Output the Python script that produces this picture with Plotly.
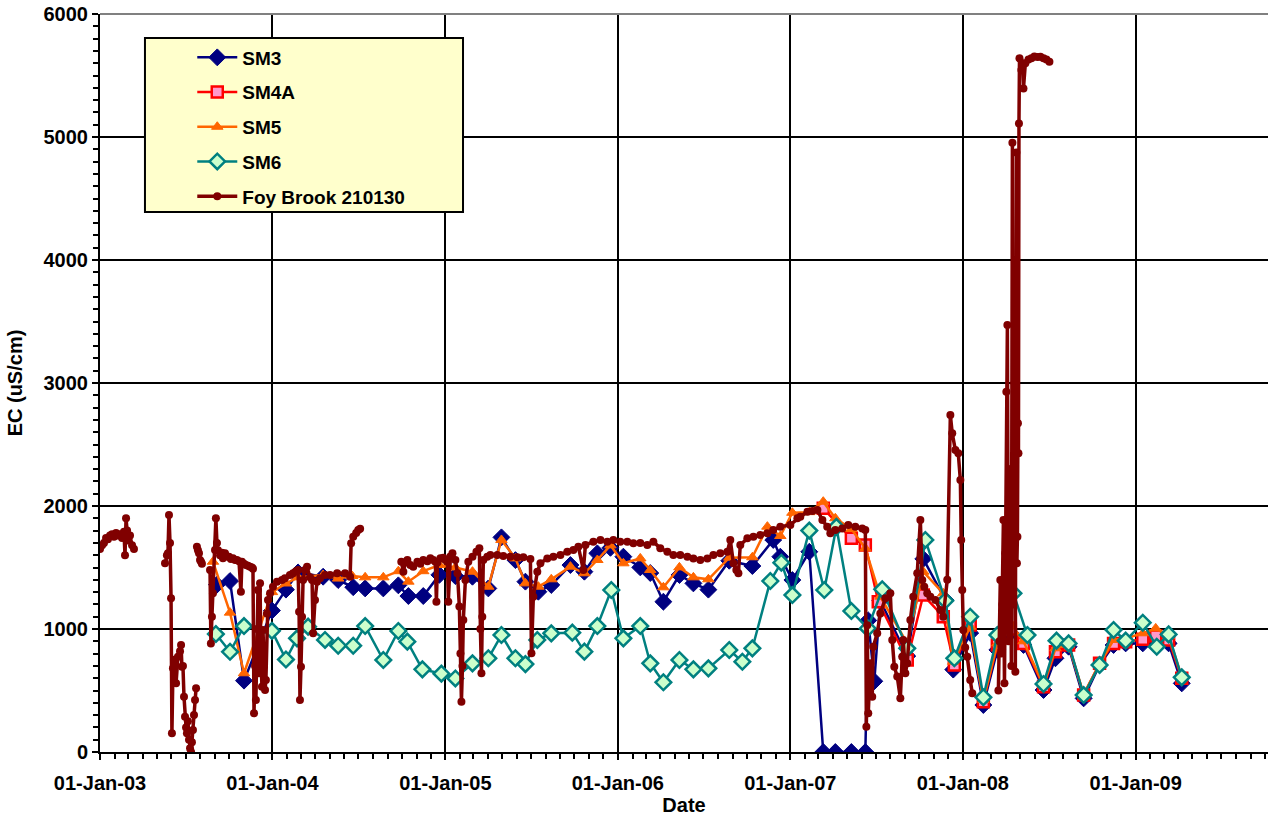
import datetime as _dt
import plotly.graph_objects as go

# ---------------- data (dates as decimal years, EC in uS/cm) ----------------
sm3_year = [2003.678, 2003.754, 2003.835, 2003.997, 2004.078, 2004.148, 2004.293, 2004.380, 2004.467,
            2004.536, 2004.641, 2004.728, 2004.786, 2004.872, 2004.965, 2005.058, 2005.157, 2005.249,
            2005.325, 2005.406, 2005.464, 2005.539, 2005.614, 2005.725, 2005.806, 2005.881, 2005.957,
            2006.032, 2006.130, 2006.188, 2006.264, 2006.357, 2006.438, 2006.525, 2006.646, 2006.780,
            2006.901, 2006.942, 2007.012, 2007.110, 2007.191, 2007.261, 2007.354, 2007.435, 2007.452,
            2007.487, 2007.522, 2007.678, 2007.771, 2007.899, 2007.945, 2008.043, 2008.119, 2008.200,
            2008.275, 2008.351, 2008.467, 2008.536, 2008.612, 2008.699, 2008.791, 2008.872, 2008.942,
            2009.041, 2009.116, 2009.191, 2009.267]
sm3_ec = [1360, 1390, 580, 1150, 1320, 1460, 1425, 1398, 1340,
          1330, 1330, 1355, 1268, 1268, 1440, 1430, 1425, 1330,
          1745, 1560, 1385, 1303, 1358, 1520, 1466, 1615, 1660,
          1588, 1501, 1455, 1222, 1439, 1371, 1320, 1555, 1512,
          1724, 1588, 1398, 1628, 0, 0, 0, 0, 1070,
          575, 1230, 780, 1570, 1236, 670, 967, 382, 830,
          970, 870, 504, 762, 856, 436, 707, 870, 883,
          883, 911, 883, 558]

sm4a_year = [2007.191, 2007.354, 2007.435, 2007.510, 2007.678, 2007.771, 2007.887, 2007.951, 2008.043,
             2008.119, 2008.200, 2008.275, 2008.351, 2008.467, 2008.536, 2008.612, 2008.699, 2008.791,
             2008.872, 2008.942, 2009.041, 2009.116, 2009.191, 2009.267]
sm4a_ec = [1981, 1737, 1683, 1222, 748, 1276, 1100, 707, 1033,
           409, 870, 1000, 883, 531, 816, 870, 463, 721,
           883, 897, 916, 943, 911, 599]

sm5_year = [2003.655, 2003.754, 2003.835, 2003.997, 2004.078, 2004.148, 2004.293, 2004.380, 2004.461,
            2004.536, 2004.641, 2004.728, 2004.786, 2004.872, 2004.965, 2005.058, 2005.157, 2005.249,
            2005.325, 2005.406, 2005.464, 2005.539, 2005.614, 2005.725, 2005.806, 2005.881, 2005.957,
            2006.032, 2006.130, 2006.188, 2006.264, 2006.357, 2006.438, 2006.525, 2006.646, 2006.780,
            2006.867, 2006.942, 2007.012, 2007.110, 2007.191, 2007.261, 2007.354, 2007.435, 2007.522,
            2007.678, 2007.771, 2007.887, 2007.945, 2008.043, 2008.119, 2008.200, 2008.275, 2008.351,
            2008.467, 2008.536, 2008.612, 2008.699, 2008.791, 2008.872, 2008.942, 2009.041, 2009.116,
            2009.191, 2009.267]
sm5_ec = [1547, 1133, 640, 1300, 1370, 1420, 1439, 1410, 1431,
          1420, 1420, 1470, 1385, 1470, 1520, 1500, 1466, 1344,
          1724, 1574, 1371, 1344, 1404, 1507, 1453, 1561, 1680,
          1534, 1574, 1480, 1339, 1501, 1420, 1404, 1580, 1583,
          1832, 1756, 1945, 1950, 2035, 1900, 1813, 1656, 1263,
          883, 1466, 1290, 734, 1019, 423, 883, 1050, 900,
          540, 843, 870, 470, 715, 911, 924, 965, 1005,
          943, 610]

sm6_year = [2003.672, 2003.754, 2003.835, 2003.997, 2004.078, 2004.142, 2004.206, 2004.304, 2004.380,
            2004.467, 2004.536, 2004.641, 2004.728, 2004.780, 2004.867, 2004.977, 2005.058, 2005.157,
            2005.249, 2005.325, 2005.406, 2005.464, 2005.533, 2005.614, 2005.736, 2005.806, 2005.881,
            2005.962, 2006.032, 2006.130, 2006.188, 2006.264, 2006.357, 2006.438, 2006.525, 2006.646,
            2006.722, 2006.780, 2006.884, 2006.948, 2007.012, 2007.110, 2007.197, 2007.267, 2007.354,
            2007.449, 2007.533, 2007.678, 2007.783, 2007.899, 2007.951, 2008.043, 2008.119, 2008.200,
            2008.293, 2008.374, 2008.467, 2008.542, 2008.612, 2008.699, 2008.791, 2008.872, 2008.942,
            2009.041, 2009.122, 2009.191, 2009.267]
sm6_ec = [959, 815, 1024, 985, 752, 924, 1019, 911, 864,
          864, 1024, 748, 984, 897, 672, 637, 598, 721,
          762, 951, 762, 715, 911, 965, 970, 816, 1024,
          1317, 924, 1024, 721, 567, 748, 672, 680, 829,
          734, 843, 1390, 1539, 1276, 1800, 1317, 1830, 1146,
          1005, 1323, 843, 1724, 1230, 762, 1100, 445, 951,
          1290, 951, 553, 905, 883, 463, 707, 992, 905,
          1051, 856, 956, 607]

# Foy Brook 210130 logger record (None = gap in record)
foy_year = [2003.000, 2003.012, 2003.023, 2003.035, 2003.046, 2003.058, 2003.070, 2003.081, 2003.093,
            2003.104, 2003.116, 2003.128, 2003.139, 2003.145, 2003.151, 2003.157, 2003.162, 2003.174,
            2003.186, 2003.197, None,
            2003.377, 2003.388, 2003.394, 2003.400, 2003.406, 2003.412, 2003.417, 2003.423, 2003.429,
            2003.441, 2003.452, 2003.464, 2003.470, 2003.475, 2003.481, 2003.487, 2003.493, 2003.499,
            2003.504, 2003.510, 2003.516, 2003.522, 2003.528, 2003.533, 2003.539, 2003.545, 2003.551,
            2003.557, None,
            2003.562, 2003.568, 2003.574, 2003.580, 2003.586, 2003.591, None,
            2003.638, 2003.643, 2003.649, 2003.655, 2003.667, 2003.672, 2003.678, 2003.684, 2003.696,
            2003.707, 2003.713, 2003.725, 2003.736, 2003.748, 2003.759, 2003.771, 2003.783, 2003.794,
            2003.806, 2003.817, 2003.823, 2003.835, 2003.846, 2003.858, 2003.870, 2003.881, 2003.887,
            2003.893, 2003.899, 2003.904, 2003.910, 2003.916, 2003.922, 2003.928, 2003.933, 2003.939,
            2003.945, 2003.951, 2003.957, 2003.962, 2003.968, 2003.974, 2003.986, 2004.003, 2004.026,
            2004.055, 2004.072, 2004.101, 2004.119, 2004.136, 2004.148, 2004.154, 2004.159, 2004.165,
            2004.171, 2004.177, 2004.188, 2004.200, 2004.217, 2004.229, 2004.235, 2004.246, 2004.258,
            2004.275, 2004.304, 2004.333, 2004.374, 2004.420, 2004.449, 2004.455, 2004.467, 2004.484,
            2004.496, 2004.507, None,
            2004.745, 2004.757, 2004.768, 2004.780, 2004.797, 2004.814, 2004.838, 2004.855, 2004.872,
            2004.896, 2004.913, 2004.930, 2004.942, 2004.948, 2004.954, 2004.971, 2004.988, 2005.000,
            2005.012, 2005.017, 2005.029, 2005.041, 2005.058, 2005.070, 2005.081, 2005.087, 2005.093,
            2005.099, 2005.104, 2005.116, 2005.133, 2005.157, 2005.180, 2005.197, 2005.203, 2005.209,
            2005.214, 2005.220, 2005.243, 2005.261, 2005.301, 2005.336, 2005.377, 2005.417, 2005.452,
            2005.493, 2005.499, 2005.510, 2005.533, 2005.551, 2005.591, 2005.626, 2005.667, 2005.707,
            2005.742, 2005.771, 2005.800, 2005.812, 2005.858, 2005.899, 2005.939, 2005.974, 2006.014,
            2006.055, 2006.090, 2006.130, 2006.171, 2006.206, 2006.246, 2006.287, 2006.322, 2006.362,
            2006.403, 2006.438, 2006.478, 2006.519, 2006.554, 2006.594, 2006.635, 2006.652, 2006.670,
            2006.687, 2006.699, 2006.710, 2006.751, 2006.786, 2006.826, 2006.867, 2006.901, 2006.942,
            2007.000, 2007.041, 2007.058, 2007.099, 2007.128, 2007.157, 2007.186, 2007.214, 2007.232,
            2007.261, 2007.301, 2007.336, 2007.377, 2007.417, 2007.435, 2007.441, 2007.446, 2007.452,
            2007.464, 2007.475, 2007.481, 2007.504, 2007.522, 2007.551, 2007.580, 2007.591, 2007.603,
            2007.620, 2007.638, 2007.649, 2007.655, 2007.667, 2007.678, 2007.696, 2007.713, 2007.736,
            2007.754, 2007.765, 2007.777, 2007.794, 2007.812, 2007.841, 2007.870, 2007.887, 2007.910,
            2007.928, 2007.939, 2007.957, 2007.974, 2007.986, 2007.991, 2007.997, 2008.003, 2008.014,
            2008.026, 2008.043, 2008.055, None,
            2008.206, 2008.212, 2008.217, 2008.223, 2008.229, 2008.235, 2008.241, 2008.246, 2008.252,
            2008.258, 2008.264, 2008.270, 2008.275, 2008.281, 2008.287, 2008.293, 2008.299, 2008.304,
            2008.310, 2008.313, 2008.316, 2008.319, 2008.322, 2008.325, 2008.328, 2008.339, 2008.345,
            2008.351, 2008.362, 2008.380, 2008.397, 2008.414, 2008.432, 2008.449, 2008.467, 2008.484,
            2008.501]
foy_ec = [1650, 1680, 1700, 1740, 1730, 1760, 1770, 1750, 1780,
          1760, 1770, 1740, 1790, 1600, 1900, 1800, 1720, 1760,
          1680, 1650, None,
          1534, 1600, 1615, 1927, 1700, 1249, 152, 680, 750,
          558, 775, 820, 870, 694, 700, 450, 287, 200,
          152, 250, 100, 30, 0, 80, 179, 300, 423,
          518, None,
          1669, 1640, 1615, 1561, 1547, 1530, None,
          1480, 883, 1100, 1290, 1642, 1900, 1700, 1640, 1600,
          1620, 1575, 1615, 1590, 1588, 1570, 1575, 1560, 1561,
          1550, 1303, 1547, 1530, 1520, 1515, 1507, 1500, 1490,
          315, 700, 423, 1000, 1317, 640, 1371, 800, 531,
          992, 700, 504, 585, 1127, 1236, 1290, 1344, 1385,
          1398, 1412, 1440, 1453, 1470, 1480, 1141, 423, 694,
          1100, 1398, 1480, 1507, 1420, 1398, 965, 1236, 1385,
          1412, 1439, 1439, 1453, 1453, 1425, 1697, 1750, 1780,
          1805, 1816, None,
          1547, 1466, 1540, 1561, 1520, 1507, 1547, 1530, 1561,
          1550, 1575, 1560, 1547, 1222, 1540, 1575, 1580, 1560,
          1547, 1222, 1590, 1615, 1560, 1453, 1182, 800, 409,
          700, 1073, 1398, 1547, 1588, 1628, 1656, 1000, 640,
          1100, 1561, 1588, 1602, 1602, 1594, 1588, 1583, 1583,
          1569, 802, 1263, 1466, 1534, 1574, 1588, 1602, 1628,
          1642, 1669, 1480, 1683, 1710, 1724, 1710, 1724, 1710,
          1710, 1697, 1700, 1683, 1710, 1656, 1628, 1602, 1602,
          1588, 1574, 1561, 1574, 1602, 1615, 1628, 1724, 1534,
          1480, 1453, 1683, 1737, 1750, 1764, 1778, 1805, 1832,
          1846, 1900, 1913, 1953, 1960, 1967, 1886, 1832, 1778,
          1805, 1818, 1846, 1832, 1818, 1805, 205, 1030, 315,
          721, 450, 856, 965, 1127, 1249, 1290, 911, 694,
          613, 436, 775, 911, 640, 721, 1073, 1263, 1453,
          1886, 1398, 1344, 1290, 1263, 1236, 1155, 1100, 1400,
          2740, 2591, 2455, 2428, 2211, 1724, 1317, 992, 850,
          775, 585, 477, None,
          500, 900, 1398, 800, 1200, 1886, 558, 1615, 2928,
          3472, 900, 1400, 2300, 700, 4954, 1200, 3000, 653,
          4873, 1534, 1750, 2672, 2428, 5110, 5640, 5545, 5600,
          5395, 5600, 5630, 5640, 5655, 5650, 5653, 5640, 5630,
          5612]

series_names = ["SM3", "SM4A", "SM5", "SM6", "Foy Brook 210130"]
x_range = ["2003-01-01", "2009-10-08"]
y_range = [0, 6000]


def to_date(t):
    if t is None:
        return None
    y = int(t)
    start = _dt.datetime(y, 1, 1)
    end = _dt.datetime(y + 1, 1, 1)
    return start + (end - start) * (t - y)


def dates(ts):
    return [to_date(t) for t in ts]


FONT = "Liberation Sans, Arial, sans-serif"

fig = go.Figure()

fig.add_trace(go.Scatter(
    x=dates(sm3_year), y=sm3_ec, name=series_names[0], mode="lines+markers",
    line=dict(color="#000080", width=2.5),
    marker=dict(symbol="diamond", size=13, color="#000080", line=dict(color="#000080", width=1)),
    legendgroup="a"))
fig.add_trace(go.Scatter(
    x=dates(sm4a_year), y=sm4a_ec, name=series_names[1], mode="lines+markers",
    line=dict(color="#FF0000", width=2.5),
    marker=dict(symbol="square", size=11, color="#FF99CC", line=dict(color="#FF0000", width=2.5)),
    legendgroup="b"))
fig.add_trace(go.Scatter(
    x=dates(sm5_year), y=sm5_ec, name=series_names[2], mode="lines+markers",
    line=dict(color="#FF6600", width=2.5),
    marker=dict(symbol="triangle-up", size=10, color="#FF6600", line=dict(color="#FF6600", width=1)),
    legendgroup="c"))
fig.add_trace(go.Scatter(
    x=dates(sm6_year), y=sm6_ec, name=series_names[3], mode="lines+markers",
    line=dict(color="#008080", width=2.5),
    marker=dict(symbol="diamond", size=12, color="#CCFFCC", line=dict(color="#008080", width=2.5)),
    legendgroup="d"))
fig.add_trace(go.Scatter(
    x=dates(foy_year), y=foy_ec, name=series_names[4], mode="lines+markers",
    connectgaps=False,
    line=dict(color="#800000", width=3.5),
    marker=dict(symbol="circle", size=8, color="#800000"),
    legendgroup="e"))

# legend box (pale yellow with black border)
fig.add_shape(type="rect", xref="paper", yref="paper",
              x0=0.0385, x1=0.3108, y0=0.7317, y1=0.9675,
              fillcolor="#FFFFCC", line=dict(color="black", width=2), layer="above")
# grey top border of plot area
fig.add_shape(type="line", xref="paper", yref="paper", x0=0, x1=1, y0=1, y1=1,
              line=dict(color="#808080", width=2), layer="above")

fig.update_layout(
    width=1268, height=816,
    margin=dict(l=100, r=0, t=14, b=64),
    paper_bgcolor="white", plot_bgcolor="white",
    font=dict(family=FONT, size=19, color="black", weight="bold"),
    showlegend=True,
    legend=dict(x=0.079, y=0.9668, xanchor="left", yanchor="top",
                bgcolor="rgba(0,0,0,0)", borderwidth=0,
                font=dict(family=FONT, size=19, color="black", weight="bold"),
                tracegroupgap=7, itemwidth=40),
    xaxis=dict(
        type="date", range=x_range,
        tick0="2003-01-01", dtick="M12", tickformat="%d-%b-%y",
        showgrid=True, gridcolor="black", gridwidth=2,
        showline=True, linecolor="black", linewidth=2,
        ticks="outside", ticklen=6, tickwidth=2, tickcolor="black",
        minor=dict(dtick="M1", ticks="outside", ticklen=5, tickwidth=2, tickcolor="black", showgrid=False),
        zeroline=False, ticklabelstandoff=6,
        title=dict(text="Date", standoff=2, font=dict(family=FONT, size=20, weight="bold")),
        tickfont=dict(family=FONT, size=20, weight="bold"),
    ),
    yaxis=dict(
        range=y_range, dtick=1000, tick0=0,
        showgrid=True, gridcolor="black", gridwidth=2,
        showline=True, linecolor="black", linewidth=2,
        ticks="outside", ticklen=6, tickwidth=2, tickcolor="black",
        minor=dict(dtick=100, ticks="outside", ticklen=5, tickwidth=2, tickcolor="black", showgrid=False),
        zeroline=False,
        title=dict(text="EC (uS/cm)", standoff=16, font=dict(family=FONT, size=20, weight="bold")),
        tickfont=dict(family=FONT, size=20, weight="bold"),
    ),
)

fig.write_html("out.html", config={"displayModeBar": False},
               post_script="document.body.style.margin='0';")
